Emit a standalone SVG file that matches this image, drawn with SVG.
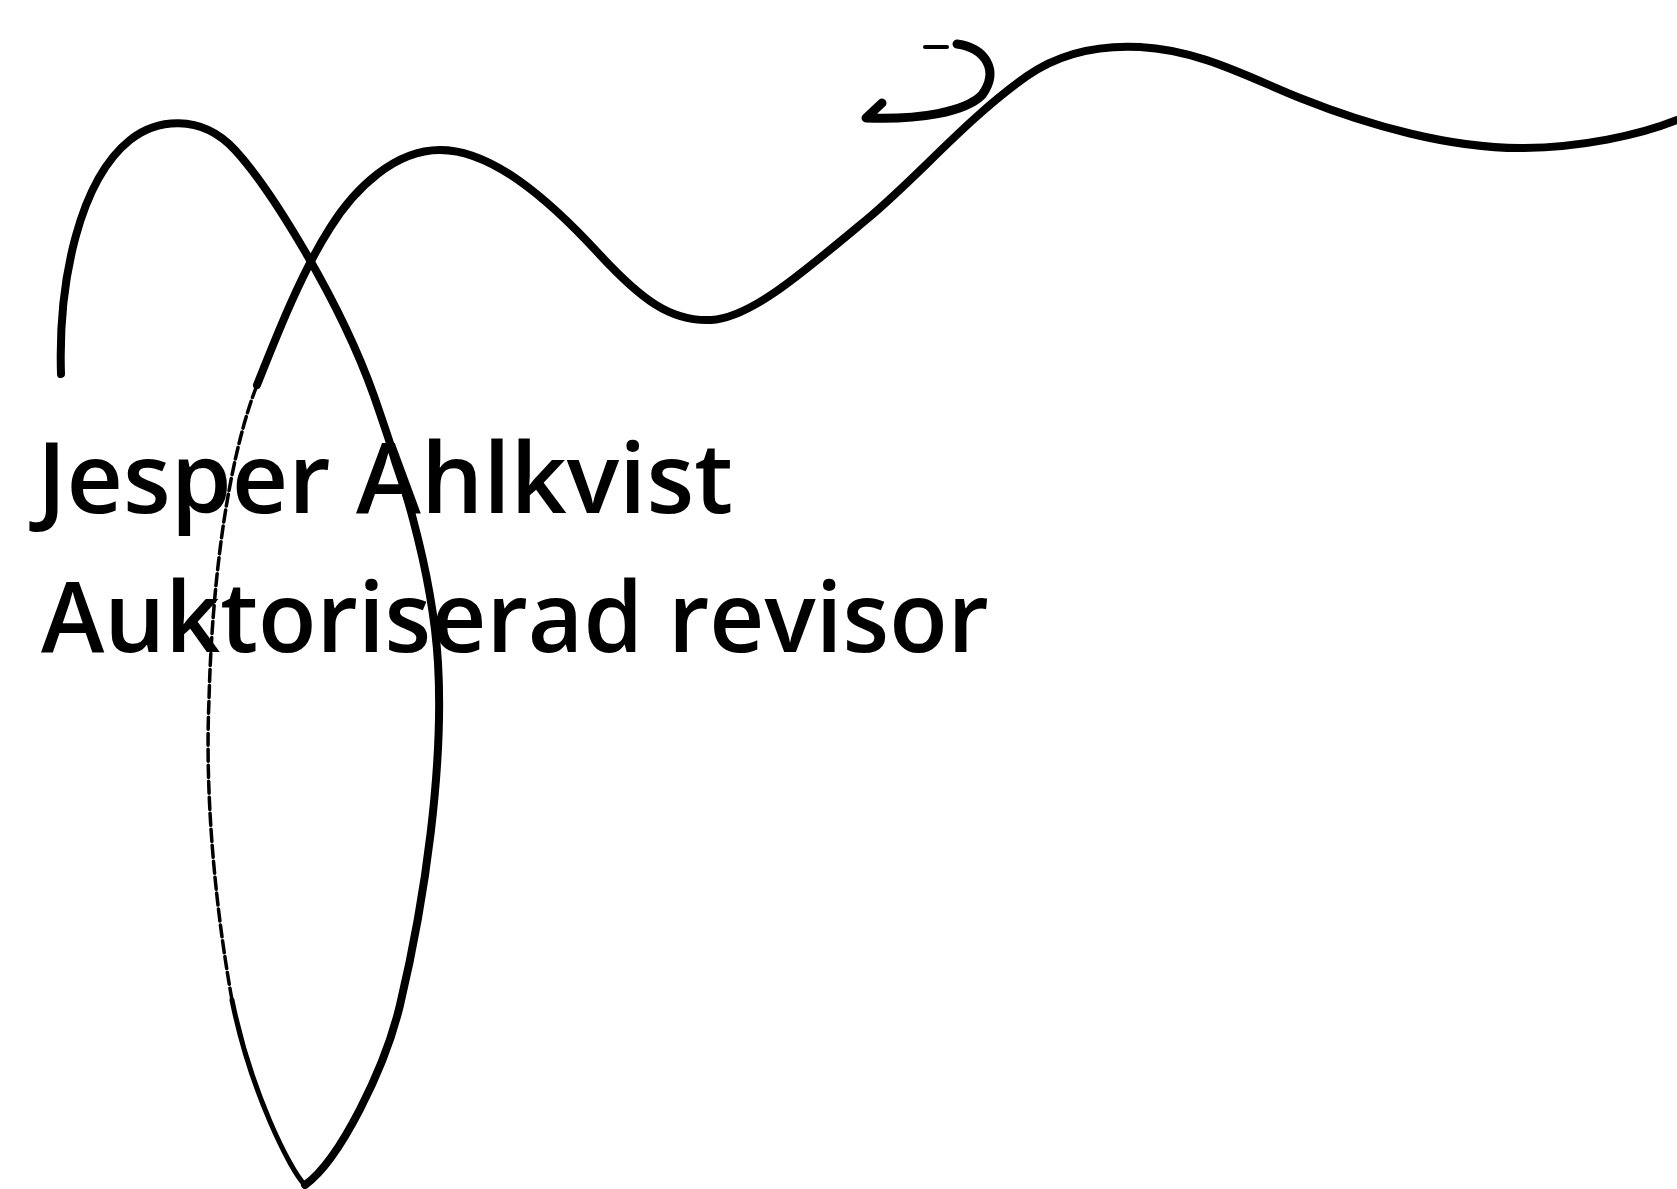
<svg xmlns="http://www.w3.org/2000/svg" width="1677" height="1189" viewBox="0 0 1677 1189">
<style>
.ink{fill:none;stroke:#000;stroke-linecap:round;stroke-linejoin:round}
.txt{font-family:"Open Sans","Liberation Sans",sans-serif;font-weight:600;fill:#000}
</style>
<rect width="1677" height="1189" fill="#fff"/>
<g id="signature">
<path class="ink" stroke-width="8" d="M61,374 C58,280 80,180 130,140 C155,120 200,112 235,150 C270,188 340,300 374,396 C394,454 432,560 438,663 C444,766 425,900 400,1005 C385,1068 340,1160 305,1185"/>
<path class="ink" stroke-width="5" d="M305,1185 C290,1170 250,1090 232,1000"/>
<path class="ink" stroke-width="3.5" stroke-dasharray="12 4" d="M232,1000 C214,900 205,790 209,700 C212,580 228,460 257,385"/>
<path class="ink" stroke-width="8" d="M257,385 C275,340 300,275 330,228 C355,188 395,150 440,150 C490,150 545,195 600,255 C640,298 670,322 711,320 C750,318 800,275 866,220 C920,175 965,120 1027,76 C1060,53 1100,45 1140,47 C1200,50 1250,78 1300,98 C1370,126 1450,148 1520,148 C1580,148 1640,135 1677,120"/>
<path class="ink" stroke-width="4" d="M925,47 L947,47"/>
<path class="ink" stroke-width="9" d="M957,44 C985,48 1000,70 982,95 C965,112 920,120 866,118 L882,103"/>
</g>
<g id="name">
<text class="txt" x="37" y="513" font-size="98" textLength="696" lengthAdjust="spacingAndGlyphs">Jesper Ahlkvist</text>
<text class="txt" x="41" y="652" font-size="98" textLength="948" lengthAdjust="spacingAndGlyphs">Auktoriserad revisor</text>
</g>
</svg>
